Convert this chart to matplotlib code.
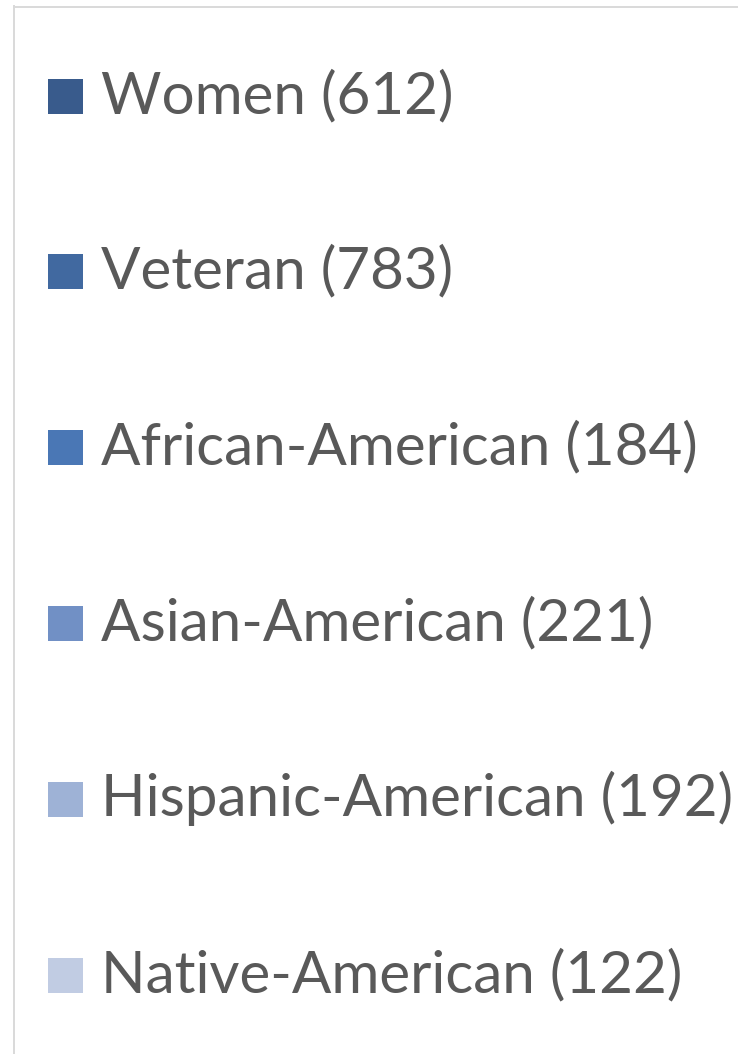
import matplotlib
matplotlib.use("Agg")
import matplotlib.pyplot as plt

categories = ["Women", "Veteran", "African-American", "Asian-American",
              "Hispanic-American", "Native-American"]
counts = [612, 783, 184, 221, 192, 122]
colors = ["#395b8c", "#4169a0", "#4a77b5", "#7190c5", "#9eb2d6", "#c1cce3"]

W, H = 738, 1054
fig = plt.figure(figsize=(W / 100, H / 100), dpi=100)
fig.patch.set_facecolor("white")

left_px, top_px = 13.5, 6.5
ax = fig.add_axes([left_px / W, 0, 1 - left_px / W, 1 - top_px / H])
row0, step = 96, 175.8
ax.set_ylim((H - row0) / step, (top_px - row0) / step)
ax.set_xlim(left_px, W)
ax.set_xticks([])
ax.set_yticks([])
for s in ["right", "bottom"]:
    ax.spines[s].set_visible(False)
for s in ["left", "top"]:
    ax.spines[s].set_color("#d9d9d9")
    ax.spines[s].set_linewidth(1.4)

ys = list(range(len(categories)))
ax.scatter([65] * len(ys), ys, marker="s", s=(35 * 0.72) ** 2, c=colors,
           edgecolors="none", clip_on=False)
for y, cat, n in zip(ys, categories, counts):
    ax.text(101, y + 17 / step, f"{cat} ({n})", fontsize=42, family="Lato",
            color="#595959", va="baseline", ha="left")

fig.savefig("out.png", dpi=100, facecolor="white")
